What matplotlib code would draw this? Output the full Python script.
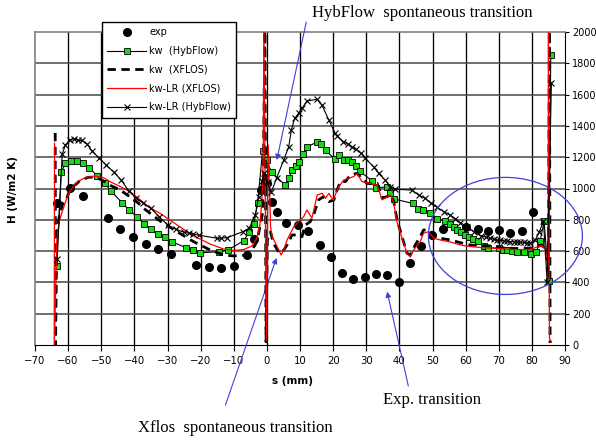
import matplotlib
matplotlib.use("Agg")
import matplotlib.pyplot as plt
from matplotlib.patches import Ellipse
from matplotlib.lines import Line2D

# ---------------- data ----------------
exp_s = [-63.3, -59.4, -55.6, -47.9, -44.3, -40.4, -36.5, -32.9, -29.0, -21.4, -17.6, -13.7,
         -10.0, -6.0, -3.8, -1.8, -0.1, 1.5, 3.2, 5.7, 9.3, 12.5, 16.1, 19.3, 22.6, 26.0,
         29.6, 32.9, 36.2, 39.8, 43.1, 46.5, 49.9, 53.3, 60.1, 63.6, 66.8, 70.0, 73.4, 76.9, 80.4]
exp_h = [905, 1005, 954, 812, 743, 692, 645, 612, 580, 511, 500, 494,
         507, 573, 679, 990, 1033, 916, 848, 778, 767, 727, 641, 564, 457, 419,
         436, 454, 450, 404, 526, 634, 705, 741, 753, 740, 730, 733, 716, 730, 852]

kwh_s = [-63.5, -62.1, -60.8, -59.0, -57.3, -55.6, -53.6, -51.2, -49.0, -47.0, -43.7, -41.6,
         -39.1, -37.0, -34.9, -33.0, -30.8, -28.5, -24.5, -22.2, -20.2, -14.6, -11.8, -7.0,
         -5.4, -3.9, -2.8, -1.3, -0.1, 1.4, 5.6, 6.6, 7.7, 8.8, 9.8, 11.0, 12.0, 15.1, 16.4,
         17.7, 20.5, 21.9, 23.2, 24.4, 25.8, 27.0, 28.0, 31.8, 33.0, 36.2, 37.2, 38.4, 44.0,
         45.7, 47.2, 49.3, 51.5, 53.8, 55.2, 56.4, 57.4, 58.6, 59.9, 61.1, 62.2, 63.6, 65.5,
         66.8, 70.2, 71.2, 72.5, 73.9, 75.5, 77.7, 79.7, 81.3, 82.5, 83.7, 85.1, 85.7]
kwh_h = [507, 1104, 1161, 1176, 1176, 1161, 1133, 1080, 1035, 982, 909, 863,
         818, 775, 741, 708, 689, 658, 623, 607, 589, 596, 607, 666,
         720, 776, 905, 1241, 1182, 1104, 1020, 1065, 1118, 1144, 1167, 1219, 1263, 1297, 1282,
         1246, 1187, 1211, 1185, 1179, 1167, 1145, 1111, 1048, 1005, 1010, 973, 933, 905,
         867, 863, 845, 807, 792, 773, 752, 735, 724, 701, 688, 679, 666, 635,
         622, 618, 609, 607, 601, 596, 594, 583, 592, 666, 790, 411, 1851]

kwx_s = [-63.9, -63.8, -63.4, -62.6, -61.6, -60.6, -59.3, -57.3, -56.3, -54.8, -53.8, -51.8,
         -49.8, -47.2, -44.2, -42.2, -41.2, -38.2, -37.2, -35.2, -32.2, -27.1, -22.1, -17.1,
         -13.0, -10.0, -7.0, -4.5, -3.0, -2.3, -1.4, -1.1, -0.6, -0.25, 0.15, 1.1, 2.0, 3.2,
         4.1, 5.1, 6.1, 7.6, 9.1, 10.6, 11.6, 13.1, 14.1, 15.6, 17.1, 18.7, 20.2, 21.2, 22.2,
         23.7, 25.2, 27.2, 28.7, 30.2, 32.2, 33.3, 34.8, 36.3, 37.3, 38.3, 39.3, 40.8, 42.3,
         43.3, 44.8, 46.3, 47.3, 49.1, 49.9, 52.4, 55.4, 58.4, 61.4, 64.4, 67.5, 70.0, 74.5,
         79.5, 81.5, 83.0, 84.0, 85.0, 85.3, 85.5]
kwx_h = [1355, 0, 722, 831, 905, 927, 1001, 1033, 1054, 1065, 1072, 1072,
         1054, 1019, 990, 959, 948, 895, 873, 841, 792, 724, 660, 607,
         575, 569, 573, 607, 660, 735, 831, 990, 2050, 20, 671, 722, 650, 607,
         586, 607, 639, 703, 703, 692, 767, 788, 831, 927, 948, 916, 927, 990, 1044,
         1044, 1086, 1097, 1065, 1033, 1029, 1033, 939, 948, 959, 916, 799, 692, 586,
         575, 639, 692, 735, 735, 703, 682, 671, 654, 639, 636, 633, 623, 617,
         617, 628, 639, 613, 511, 2050, 13]

kwlrx_s = [-64.1, -64.2, -63.4, -62.6, -60.6, -59.3, -57.3, -54.8, -51.8, -49.3, -47.2, -44.2,
           -41.2, -38.2, -35.2, -32.2, -27.1, -22.1, -17.1, -13.0, -10.0, -7.0, -4.5, -3.0,
           -2.1, -1.5, -1.1, -0.9, -0.15, 0.4, 0.9, 1.1, 1.6, 2.6, 3.6, 4.3, 5.1, 6.1, 7.1,
           8.1, 9.6, 11.1, 12.1, 13.6, 15.2, 16.7, 17.7, 18.7, 20.0, 21.7, 23.2, 24.7, 26.2,
           27.2, 28.7, 31.2, 33.3, 34.8, 36.3, 37.3, 38.3, 39.3, 40.8, 42.3, 43.3, 44.3, 46.3,
           47.3, 48.8, 50.4, 52.4, 55.4, 58.4, 61.4, 64.4, 67.5, 70.0, 74.5, 79.5, 81.5, 83.0,
           84.0, 84.9, 85.0, 85.3, 85.8]
kwlrx_h = [1290, -20, 671, 799, 927, 990, 1042, 1070, 1080, 1069, 1042, 1012,
           978, 927, 875, 841, 767, 697, 645, 613, 604, 610, 633, 684,
           767, 927, 1182, 2050, 32, 1278, 927, 756, 692, 650, 607, 575, 607, 671, 714,
           756, 788, 820, 863, 810, 959, 969, 937, 969, 927, 1012, 1054, 1065, 1076,
           1097, 1044, 1033, 1022, 927, 948, 959, 907, 786, 684, 586, 562, 607, 660,
           714, 724, 682, 671, 658, 639, 629, 623, 620, 617, 610, 610, 626, 636,
           613, 524, 2050, 45, 19]

kwlrh_s = [-63.3, -61.8, -60.8, -59.5, -58.3, -57.0, -55.8, -54.3, -52.8, -50.8, -48.5, -46.2,
           -44.0, -41.7, -39.5, -37.3, -35.0, -32.5, -30.0, -27.5, -25.0, -23.4, -22.2, -20.4,
           -15.0, -13.8, -12.0, -7.2, -5.3, -3.5, -2.5, -1.4, -0.9, 0.2, 1.3, 3.0, 5.1, 6.6,
           7.4, 8.4, 9.6, 10.6, 12.1, 15.1, 16.6, 18.7, 20.6, 21.3, 23.1, 24.4, 25.6, 26.9,
           28.5, 29.7, 32.2, 33.7, 35.7, 37.2, 38.7, 43.8, 45.8, 47.8, 49.6, 51.4, 53.4, 55.2,
           56.9, 58.4, 60.4, 62.4, 64.5, 66.0, 67.3, 68.5, 69.5, 70.5, 71.5, 72.5, 73.5, 74.5,
           75.5, 76.5, 77.5, 78.5, 79.5, 81.0, 82.3, 83.5, 84.6, 85.9]
kwlrh_h = [550, 1220, 1278, 1310, 1318, 1307, 1307, 1284, 1240, 1197, 1150, 1104,
           1055, 984, 940, 905, 873, 820, 767, 740, 720, 714, 709, 701,
           682, 682, 686, 724, 748, 831, 948, 1050, 1097, 1040, 976, 1070, 1182, 1267,
           1374, 1449, 1480, 1512, 1559, 1570, 1534, 1438, 1353, 1335, 1299, 1284, 1267, 1250,
           1225, 1193, 1139, 1097, 1054, 1012, 995, 990, 958, 937, 905, 880, 852, 831,
           807, 782, 756, 724, 698, 690, 682, 676, 671, 668, 666, 663, 660, 659,
           658, 657, 656, 653, 650, 671, 724, 794, 404, 1676]

legend_labels = ["exp", "kw  (HybFlow)", "kw  (XFLOS)", "kw-LR (XFLOS)", "kw-LR (HybFlow)"]
x_ticks = list(range(-70, 91, 10))
y_ticks = list(range(0, 2001, 200))

# ---------------- figure ----------------
W, H = 596, 442
fig = plt.figure(figsize=(W / 100, H / 100), dpi=100)
L, R, T, B = 35, 565, 32, 345
ax = fig.add_axes([L / W, 1 - B / H, (R - L) / W, (B - T) / H])

ax.set_xlim(-70, 90)
ax.set_ylim(0, 2000)
ax.set_xticks(x_ticks)
ax.set_yticks(y_ticks)

blue = (0.25, 0.25, 0.85)

ax.plot(exp_s, exp_h, linestyle="none", marker="o", color="black", markersize=5.5, zorder=3)
ax.plot(kwh_s, kwh_h, color="black", linewidth=0.8, marker="s", markersize=5,
        markerfacecolor="#11dd11", markeredgecolor="black", markeredgewidth=0.6, zorder=4)
ax.plot(kwx_s, kwx_h, color="black", linewidth=2.0, linestyle=(0, (3, 2)), zorder=5)
ax.plot(kwlrx_s, kwlrx_h, color="red", linewidth=0.9, zorder=6)
ax.plot(kwlrh_s, kwlrh_h, color="black", linewidth=0.8, marker="x", markersize=5,
        markeredgewidth=0.8, zorder=7)

for side in ["top", "left"]:
    ax.spines[side].set_color("#808080")
    ax.spines[side].set_linewidth(1.2)
ax.spines["right"].set_color("black")
ax.spines["bottom"].set_color("black")

ax.yaxis.tick_right()
ax.tick_params(axis="y", which="both", direction="out", length=3, labelsize=7, pad=2)
ax.tick_params(axis="x", which="both", direction="out", length=4, labelsize=7.3, pad=4)
ax.tick_params(axis="y", left=False, labelleft=False)

# grid drawn explicitly after tick configuration
for xv in x_ticks[1:-1]:
    ax.axvline(xv, color="black", linewidth=0.95, zorder=1)
for yv in y_ticks[1:-1]:
    ax.axhline(yv, color="#484848", linewidth=1.1, zorder=1)

ax.set_xlabel("s (mm)", fontsize=7.5, fontweight="bold")
ax.xaxis.set_label_coords((293 - L) / (R - L), -(376 - B) / (B - T))
fig.text(13 / W, 1 - 190 / H, "H (W/m2 K)", rotation=90, fontsize=7.5,
         fontweight="bold", ha="center", va="center")

handles = [
    Line2D([], [], linestyle="none", marker="o", color="black", markersize=5.5),
    Line2D([], [], color="black", linewidth=0.8, marker="s", markersize=5,
           markerfacecolor="#11dd11", markeredgecolor="black", markeredgewidth=0.6),
    Line2D([], [], color="black", linewidth=2.0, linestyle=(0, (3, 2))),
    Line2D([], [], color="red", linewidth=0.9),
    Line2D([], [], color="black", linewidth=0.8, marker="x", markersize=5, markeredgewidth=0.8),
]
leg = ax.legend(handles, legend_labels, loc="upper left",
                bbox_to_anchor=((102 - L) / (R - L), (B - 22) / (B - T)),
                borderaxespad=0, fancybox=False, framealpha=1, edgecolor="black",
                fontsize=7.0, handlelength=4.0, labelspacing=0.9, handletextpad=0.3,
                borderpad=0.55, numpoints=1)
leg.get_frame().set_linewidth(1.0)
leg.set_zorder(20)

# ellipse
ell = Ellipse((72.0, 697), 46.5, 748, fill=False, edgecolor=blue, linewidth=0.9,
              zorder=8, clip_on=False)
ax.add_patch(ell)

serif = ["Liberation Serif", "DejaVu Serif"]
ap = dict(arrowstyle="-|>", color=blue, lw=0.8, mutation_scale=8, shrinkA=0, shrinkB=0)

ax.annotate("", xy=(3.0, 1182), xytext=(11.9, 2064), arrowprops=ap, annotation_clip=False)
ax.text(13.7, 2121, "HybFlow  spontaneous transition", family=serif, fontsize=12,
        ha="left", va="center", clip_on=False)

ax.annotate("", xy=(2.9, 556), xytext=(-12.5, -383), arrowprops=ap, annotation_clip=False)
ax.text(-38.8, -530, "Xflos  spontaneous transition", family=serif, fontsize=12,
        ha="left", va="center", clip_on=False)

ax.annotate("", xy=(36.3, 341), xytext=(42.7, -262), arrowprops=ap, annotation_clip=False)
ax.text(35.2, -351, "Exp. transition", family=serif, fontsize=12,
        ha="left", va="center", clip_on=False)

fig.savefig("out.png", dpi=100)
